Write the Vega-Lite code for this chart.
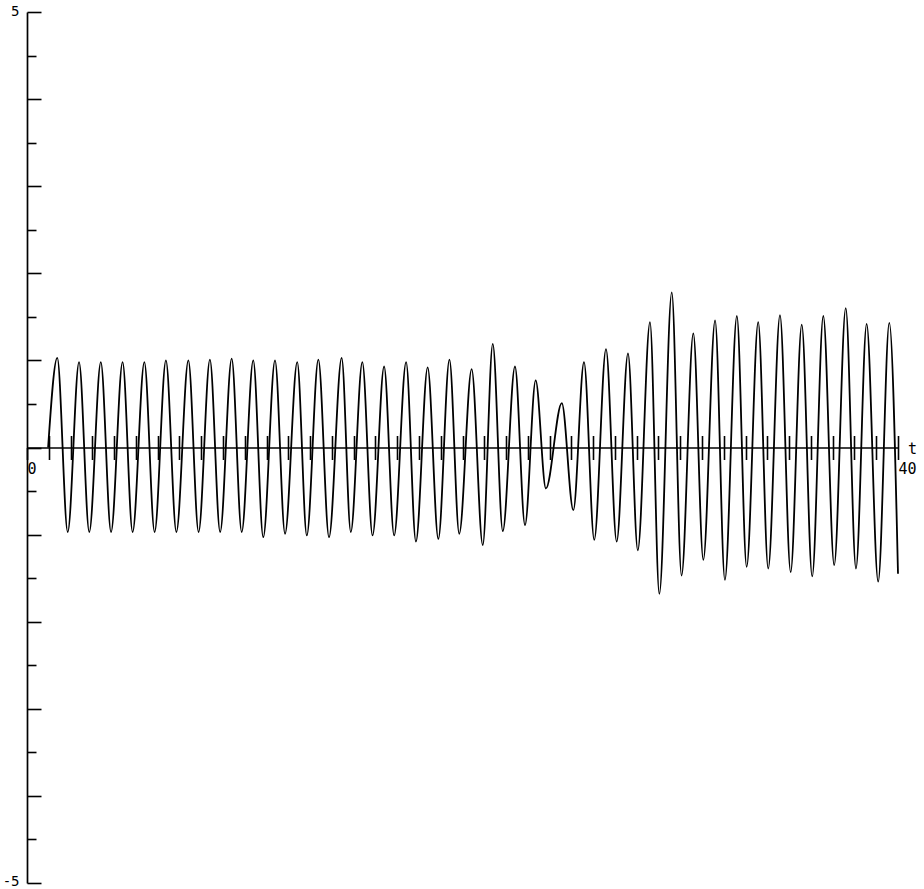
{
 "$schema": "https://vega.github.io/schema/vega-lite/v6.json",
 "width": 871,
 "height": 871,
 "autosize": {"type": "none"},
 "padding": {"left": 27, "top": 12, "right": 26, "bottom": 6},
 "background": "white",
 "config": {
  "view": {"stroke": null},
  "axis": {"grid": false, "domainColor": "black", "tickColor": "black", "labelColor": "black", "labelFont": "DejaVu Sans Mono", "labelFontSize": 15, "labelFontWeight": "normal"}
 },
 "layer": [
  {
   "data": {"values": [
    {"t": 0.97, "v": 0.0},
    {"t": 1.39, "v": 1.03}, {"t": 1.87, "v": -0.97},
    {"t": 2.39, "v": 0.98}, {"t": 2.86, "v": -0.97},
    {"t": 3.39, "v": 0.98}, {"t": 3.86, "v": -0.97},
    {"t": 4.39, "v": 0.98}, {"t": 4.85, "v": -0.97},
    {"t": 5.39, "v": 0.98}, {"t": 5.86, "v": -0.97},
    {"t": 6.38, "v": 1.0}, {"t": 6.86, "v": -0.97},
    {"t": 7.41, "v": 1.0}, {"t": 7.88, "v": -0.97},
    {"t": 8.40, "v": 1.01}, {"t": 8.87, "v": -0.97},
    {"t": 9.40, "v": 1.02}, {"t": 9.86, "v": -0.97},
    {"t": 10.39, "v": 1.0}, {"t": 10.85, "v": -1.03},
    {"t": 11.39, "v": 1.0}, {"t": 11.85, "v": -0.99},
    {"t": 12.41, "v": 0.98}, {"t": 12.85, "v": -1.01},
    {"t": 13.38, "v": 1.01}, {"t": 13.87, "v": -1.03},
    {"t": 14.45, "v": 1.03}, {"t": 14.87, "v": -0.97},
    {"t": 15.40, "v": 0.98}, {"t": 15.87, "v": -1.01},
    {"t": 16.40, "v": 0.93}, {"t": 16.86, "v": -1.01},
    {"t": 17.41, "v": 0.98}, {"t": 17.86, "v": -1.08},
    {"t": 18.40, "v": 0.92}, {"t": 18.89, "v": -1.05},
    {"t": 19.40, "v": 1.01}, {"t": 19.85, "v": -0.99},
    {"t": 20.42, "v": 0.90}, {"t": 20.93, "v": -1.12},
    {"t": 21.39, "v": 1.19}, {"t": 21.85, "v": -0.96},
    {"t": 22.41, "v": 0.93}, {"t": 22.87, "v": -0.89},
    {"t": 23.36, "v": 0.77}, {"t": 23.83, "v": -0.47},
    {"t": 24.56, "v": 0.51}, {"t": 25.09, "v": -0.72},
    {"t": 25.58, "v": 0.98}, {"t": 26.05, "v": -1.06},
    {"t": 26.59, "v": 1.13}, {"t": 27.08, "v": -1.08},
    {"t": 27.60, "v": 1.08}, {"t": 28.05, "v": -1.18},
    {"t": 28.61, "v": 1.44}, {"t": 29.04, "v": -1.68},
    {"t": 29.61, "v": 1.78}, {"t": 30.06, "v": -1.47},
    {"t": 30.60, "v": 1.31}, {"t": 31.06, "v": -1.29},
    {"t": 31.60, "v": 1.46}, {"t": 32.05, "v": -1.52},
    {"t": 32.60, "v": 1.51}, {"t": 33.05, "v": -1.37},
    {"t": 33.58, "v": 1.44}, {"t": 34.04, "v": -1.39},
    {"t": 34.58, "v": 1.52}, {"t": 35.07, "v": -1.43},
    {"t": 35.58, "v": 1.41}, {"t": 36.06, "v": -1.48},
    {"t": 36.57, "v": 1.51}, {"t": 37.07, "v": -1.35},
    {"t": 37.60, "v": 1.60}, {"t": 38.07, "v": -1.39},
    {"t": 38.56, "v": 1.42}, {"t": 39.09, "v": -1.54},
    {"t": 39.60, "v": 1.43}, {"t": 40.0, "v": -1.45}
   ]},
   "mark": {"type": "line", "interpolate": "monotone", "color": "black", "strokeWidth": 1.8},
   "encoding": {
    "x": {
     "field": "t", "type": "quantitative",
     "scale": {"domain": [0, 40], "nice": false, "zero": false},
     "axis": {
      "orient": "bottom", "offset": -435.5,
      "values": [0,1,2,3,4,5,6,7,8,9,10,11,12,13,14,15,16,17,18,19,20,21,22,23,24,25,26,27,28,29,30,31,32,33,34,35,36,37,38,39,40],
      "tickSize": 12, "tickWidth": 1.6, "domainWidth": 1.7,
      "labelExpr": "datum.value == 0 || datum.value == 40 ? datum.label : ''",
      "labelAlign": "left", "labelBaseline": "top", "labelPadding": 2, "labelDx": 4,
      "labelFlush": false, "labelOverlap": false, "labelBound": false,
      "title": null
     }
    },
    "y": {
     "field": "v", "type": "quantitative",
     "scale": {"domain": [-5, 5], "nice": false, "zero": false},
     "axis": {
      "orient": "right", "offset": -871,
      "values": [-5,-4.5,-4,-3.5,-3,-2.5,-2,-1.5,-1,-0.5,0,0.5,1,1.5,2,2.5,3,3.5,4,4.5,5],
      "tickSize": {"condition": {"test": "datum.value % 1 === 0", "value": 14}, "value": 9},
      "tickWidth": 1.6, "domainWidth": 1.7, "labels": false, "title": null
     }
    }
   }
  },
  {
   "data": {"values": [{"label": "t"}]},
   "mark": {"type": "text", "align": "left", "baseline": "middle", "dx": 10, "dy": 1, "font": "DejaVu Sans Mono", "fontSize": 15, "color": "black"},
   "encoding": {
    "x": {
     "datum": 40, "type": "quantitative",
     "scale": {"domain": [0, 40], "nice": false, "zero": false},
     "axis": {
      "orient": "top", "offset": -435.5,
      "values": [1,2,3,4,5,6,7,8,9,10,11,12,13,14,15,16,17,18,19,20,21,22,23,24,25,26,27,28,29,30,31,32,33,34,35,36,37,38,39,40],
      "tickSize": 12, "tickWidth": 1.6, "domain": false, "labels": false, "title": null
     }
    },
    "y": {
     "datum": 0, "type": "quantitative",
     "scale": {"domain": [-5, 5], "nice": false, "zero": false},
     "axis": {
      "orient": "left", "values": [-5, 5], "ticks": false, "domain": false,
      "labelPadding": 8, "labelFontSize": 14, "labelExpr": "datum.value > 0 ? '5' : '-5'",
      "labelBaseline": {"condition": {"test": "datum.value < 0", "value": "alphabetic"}, "value": "middle"},
      "labelOffset": {"condition": {"test": "datum.value < 0", "value": 2}, "value": -1},
      "labelFlush": false, "labelOverlap": false, "title": null
     }
    },
    "text": {"field": "label", "type": "nominal"}
   }
  }
 ],
 "resolve": {"axis": {"x": "independent", "y": "independent"}}
}
